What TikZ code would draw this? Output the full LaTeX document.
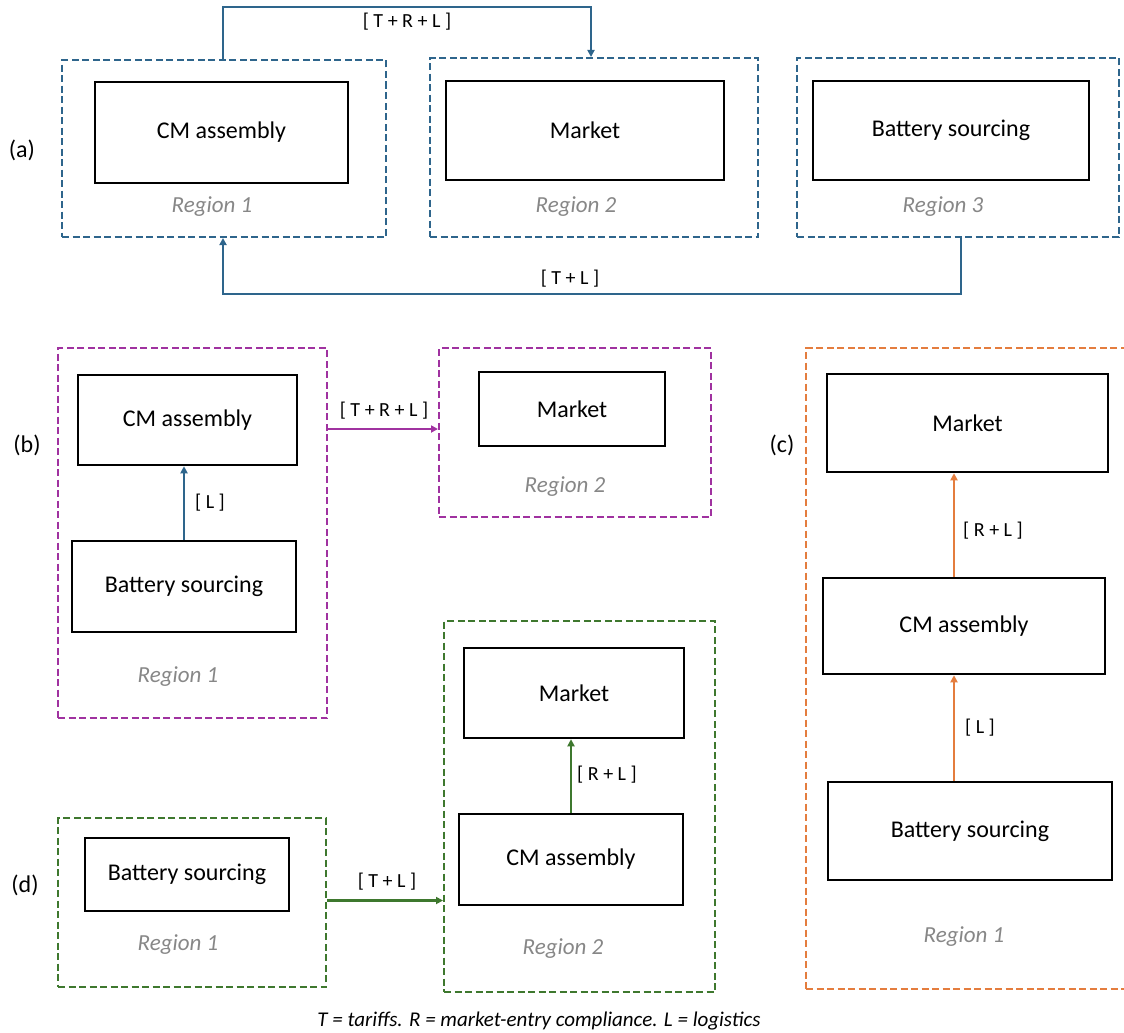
\documentclass[tikz,border=0pt]{standalone}
\usepackage{fontspec}
\setmainfont{Carlito}
\usetikzlibrary{arrows.meta}
\definecolor{cblue}{RGB}{46,101,140}
\definecolor{cpurple}{RGB}{160,50,160}
\definecolor{corange}{RGB}{228,125,62}
\definecolor{cgreen}{RGB}{62,120,46}
\definecolor{cgrey}{RGB}{135,135,135}
\newcommand\mkbox[7][]{%
  \pgfmathsetmacro\bw{#5-#3}\pgfmathsetmacro\bh{#6-#4}%
  \node[#1, minimum width=\bw pt, minimum height=\bh pt] (#2) at ({(#3+#5)/2},{(#4+#6)/2}) {#7};}
\begin{document}
\begin{tikzpicture}[x=1pt,y=-1pt,
  box/.style={draw=black,line width=2.5pt,inner sep=0pt,font=\fontsize{24}{28}\selectfont},
  region/.style={draw=#1,line width=2pt,dash pattern=on 7pt off 3.5pt,inner sep=0pt},
  reglabel/.style={text=cgrey,font=\fontsize{23}{27}\selectfont\itshape},
  flowlabel/.style={font=\fontsize{20}{24}\selectfont},
  panel/.style={font=\fontsize{24}{28}\selectfont},
  flow/.style={draw=#1,line width=2.2pt,-{Triangle[length=7pt,width=7pt]}}]
\useasboundingbox (0,0) rectangle (1124,1033);
\clip (0,0) rectangle (1124,1033);

% ---------- (a)
\node[panel] (la) at (22,150) {(a)};
\mkbox[region=cblue]{r1a}{62}{60}{386}{237}{}
\mkbox[region=cblue]{r2a}{430}{58}{758}{237}{}
\mkbox[region=cblue]{r3a}{797}{58}{1119}{237}{}
\mkbox[box]{cmA}{95}{82}{348}{183}{CM assembly}
\mkbox[box]{mkA}{446}{81}{724}{180}{Market}
\mkbox[box]{batA}{813}{81}{1089}{180}{Battery sourcing}
\node[reglabel] (rl1a) at (212,207) {Region 1};
\node[reglabel] (rl2a) at (576,207) {Region 2};
\node[reglabel] (rl3a) at (943,207) {Region 3};
\draw[flow=cblue] ([xshift=162pt]r1a.north west) -- ++(0,-52) -| ([xshift=162pt]r2a.north west);
\node[flowlabel] (fa1) at (407,22) {[ T + R + L ]};
\draw[flow=cblue] ([xshift=165pt]r3a.south west) -- ++(0,56) -| ([xshift=162pt]r1a.south west);
\node[flowlabel] (fa2) at (570,279) {[ T + L ]};

% ---------- (b)
\node[panel] (lb) at (27,445) {(b)};
\mkbox[region=cpurple]{r1b}{58}{348}{327}{718}{}
\mkbox[region=cpurple]{r2b}{439}{348}{711}{517}{}
\mkbox[box]{cmB}{78}{375}{297}{465}{CM assembly}
\mkbox[box]{batB}{72}{541}{296}{632}{Battery sourcing}
\mkbox[box]{mkB}{479}{372}{665}{446}{Market}
\node[reglabel] (rl1b) at (178,677) {Region 1};
\node[reglabel] (rl2b) at (565,487) {Region 2};
\draw[flow=cblue] (batB.north) -- (batB.north |- cmB.south);
\node[flowlabel] (fb1) at (210,503) {[ L ]};
\draw[flow=cpurple] ([yshift=104pt]r1b.east) -- ([yshift=104pt]r1b.east -| r2b.west);
\node[flowlabel] (fb2) at (384,411) {[ T + R + L ]};

% ---------- (c)
\node[panel] (lc) at (782,445) {(c)};
\mkbox[region=corange]{r1c}{806}{348}{1145}{989}{}
\mkbox[box]{mkC}{827}{374}{1108}{472}{Market}
\mkbox[box]{cmC}{823}{578}{1105}{674}{CM assembly}
\mkbox[box]{batC}{828}{782}{1112}{880}{Battery sourcing}
\node[reglabel] (rl1c) at (964,937) {Region 1};
\draw[flow=corange] ([xshift=-16pt]batC.north) -- ([xshift=-16pt]batC.north |- cmC.south);
\node[flowlabel] (fc1) at (980,728) {[ L ]};
\draw[flow=corange] ([xshift=-10pt]cmC.north) -- ([xshift=-10pt]cmC.north |- mkC.south);
\node[flowlabel] (fc2) at (993,531) {[ R + L ]};

% ---------- (d)
\node[panel] (ld) at (25,885) {(d)};
\mkbox[region=cgreen]{r1d}{58}{818}{326}{987}{}
\mkbox[region=cgreen]{r2d}{444}{621}{715}{992}{}
\mkbox[box]{batD}{85}{838}{289}{911}{Battery sourcing}
\mkbox[box]{mkD}{464}{648}{684}{738}{Market}
\mkbox[box]{cmD}{459}{814}{683}{905}{CM assembly}
\node[reglabel] (rl1d) at (178,945) {Region 1};
\node[reglabel] (rl2d) at (563,949) {Region 2};
\draw[flow=cgreen] (cmD.north) -- (cmD.north |- mkD.south);
\node[flowlabel] (fd1) at (607,775) {[ R + L ]};
\draw[flow=cgreen] ([yshift=2pt]r1d.east) -- ([yshift=2pt]r1d.east -| r2d.west);
\node[flowlabel] (fd2) at (387,882) {[ T + L ]};

% ---------- footer
\node[font=\fontsize{21}{25}\selectfont\itshape] (foot) at (539,1021) {T = tariffs. R = market-entry compliance. L = logistics};
\end{tikzpicture}
\end{document}
